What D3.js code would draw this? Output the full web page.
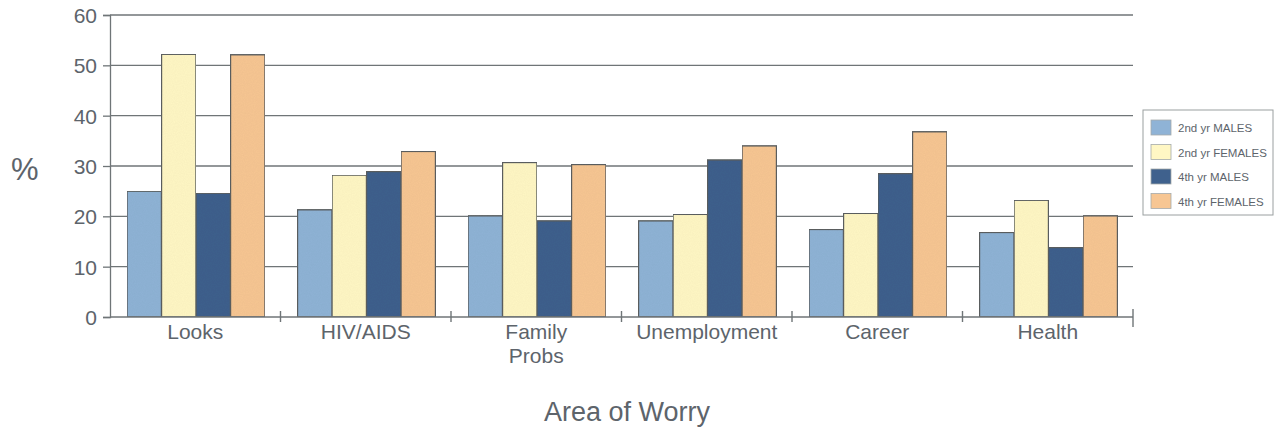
<!DOCTYPE html>
<html>
<head>
<meta charset="utf-8">
<script src="https://cdn.jsdelivr.net/npm/d3@7"></script>
<style>
  html, body { margin: 0; padding: 0; background: #fff; }
  svg { display: block; font-family: "Liberation Sans", Arial, sans-serif; }
</style>
</head>
<body>
<svg id="chart" width="1275" height="427"></svg>
<script>
// Areas of worry, percentage of students per group
const categories = ["Looks", "HIV/AIDS", "Family Probs", "Unemployment", "Career", "Health"];
const seriesNames = ["2nd yr MALES", "2nd yr FEMALES", "4th yr MALES", "4th yr FEMALES"];
const males2nd   = [25.0, 21.3, 20.1, 19.1, 17.4, 16.8];
const females2nd = [52.2, 28.2, 30.7, 20.4, 20.6, 23.2];
const males4th   = [24.6, 28.9, 19.1, 31.2, 28.5, 13.8];
const females4th = [52.1, 32.9, 30.3, 34.0, 36.8, 20.1];
const yTicks = [0, 10, 20, 30, 40, 50, 60];

const seriesValues = [males2nd, females2nd, males4th, females4th];
const fills = ["#8fb3d6", "#fff7c4", "#3f618d", "#f7c693"];
const textColor = "#5d646b";
const lineColor = "#6f7577";
const fontFamily = "Liberation Sans, Arial, sans-serif";

const svg = d3.select("#chart");
const plot = { left: 110, right: 1133, top: 15, bottom: 317 };

const x = d3.scaleBand().domain(categories).range([plot.left, plot.right]).padding(0);
const inner = d3.scaleBand().domain(seriesNames).range([17, 155]).padding(0);
const y = d3.scaleLinear().domain([0, 60]).range([plot.bottom, plot.top]);

// light paper grain for the bar fills
const defs = svg.append("defs");
const filt = defs.append("filter").attr("id", "grain")
  .attr("x", 0).attr("y", 0).attr("width", 1).attr("height", 1);
filt.append("feTurbulence").attr("type", "fractalNoise")
  .attr("baseFrequency", 0.9).attr("numOctaves", 2).attr("seed", 3).attr("result", "noise");
filt.append("feColorMatrix").attr("in", "noise").attr("type", "matrix")
  .attr("values", "0 0 0 0 0  0 0 0 0 0  0 0 0 0 0  0 0 0 0.07 0").attr("result", "dark");
filt.append("feComposite").attr("in", "dark").attr("in2", "SourceGraphic")
  .attr("operator", "in").attr("result", "darkIn");
const merge = filt.append("feMerge");
merge.append("feMergeNode").attr("in", "SourceGraphic");
merge.append("feMergeNode").attr("in", "darkIn");

// horizontal gridlines
svg.append("g").selectAll("line")
  .data(yTicks.filter(d => d > 0))
  .join("line")
  .attr("x1", plot.left).attr("x2", plot.right)
  .attr("y1", d => y(d)).attr("y2", d => y(d))
  .attr("stroke", lineColor).attr("stroke-width", 1.3);

// y axis
const yAxis = svg.append("g")
  .attr("transform", `translate(${plot.left},0)`)
  .call(d3.axisLeft(y).tickValues(yTicks).tickSize(7).tickPadding(6));
yAxis.attr("font-family", fontFamily);
yAxis.select(".domain").attr("stroke", lineColor).attr("stroke-width", 1.3);
yAxis.selectAll(".tick line").attr("stroke", lineColor).attr("stroke-width", 1.3);
yAxis.selectAll(".tick text")
  .attr("fill", textColor).attr("font-size", 21).attr("dy", "0.36em");

// bars
const groups = svg.append("g").selectAll("g")
  .data(categories)
  .join("g")
  .attr("transform", d => `translate(${x(d)},0)`);

groups.selectAll("rect")
  .data((c, i) => seriesNames.map((s, k) => ({ s, k, v: seriesValues[k][i] })))
  .join("rect")
  .attr("x", d => inner(d.s))
  .attr("width", inner.bandwidth())
  .attr("y", d => y(d.v))
  .attr("height", d => y(0) - y(d.v))
  .attr("fill", d => fills[d.k])
  .attr("stroke", "#5b5f60")
  .attr("stroke-width", 1.4)
  .attr("filter", "url(#grain)");

// x axis line and category separators
svg.append("line")
  .attr("x1", plot.left).attr("x2", plot.right)
  .attr("y1", plot.bottom).attr("y2", plot.bottom)
  .attr("stroke", lineColor).attr("stroke-width", 1.4);
svg.append("g").selectAll("line")
  .data(categories.slice(1).concat(["end"]))
  .join("line")
  .attr("x1", d => d === "end" ? plot.right : x(d))
  .attr("x2", d => d === "end" ? plot.right : x(d))
  .attr("y1", d => d === "end" ? 309 : 311)
  .attr("y2", d => d === "end" ? 327 : 322)
  .attr("stroke", lineColor).attr("stroke-width", 1.4);

// category labels
const wrapped = { "Family Probs": ["Family", "Probs"] };
svg.append("g").selectAll("text")
  .data(categories)
  .join("text")
  .attr("x", d => x(d) + x.bandwidth() / 2)
  .attr("y", 339)
  .attr("text-anchor", "middle")
  .attr("fill", textColor)
  .attr("font-size", 21)
  .each(function(d) {
    const lines = wrapped[d] || [d];
    d3.select(this).selectAll("tspan")
      .data(lines)
      .join("tspan")
      .attr("x", x(d) + x.bandwidth() / 2)
      .attr("dy", (l, i) => i === 0 ? 0 : 24)
      .text(l => l);
  });

// axis titles
svg.append("text")
  .attr("x", 627).attr("y", 421)
  .attr("text-anchor", "middle")
  .attr("fill", textColor).attr("font-size", 27)
  .text("Area of Worry");
svg.append("text")
  .attr("x", 11).attr("y", 180)
  .attr("fill", textColor).attr("font-size", 31)
  .text("%");

// legend
const legend = svg.append("g").attr("transform", "translate(1143,110)");
legend.append("rect")
  .attr("width", 130).attr("height", 105)
  .attr("fill", "#fff").attr("stroke", "#9a9fa0").attr("stroke-width", 1);
const items = legend.selectAll("g")
  .data(seriesNames)
  .join("g")
  .attr("transform", (d, i) => `translate(8,${10 + i * 24.5})`);
items.append("rect")
  .attr("width", 20).attr("height", 15)
  .attr("fill", (d, i) => fills[i])
  .attr("stroke", "#a5aaab").attr("stroke-width", 0.8);
items.append("text")
  .attr("x", 27).attr("y", 12)
  .attr("fill", textColor).attr("font-size", 11.5)
  .text(d => d);
</script>
</body>
</html>
